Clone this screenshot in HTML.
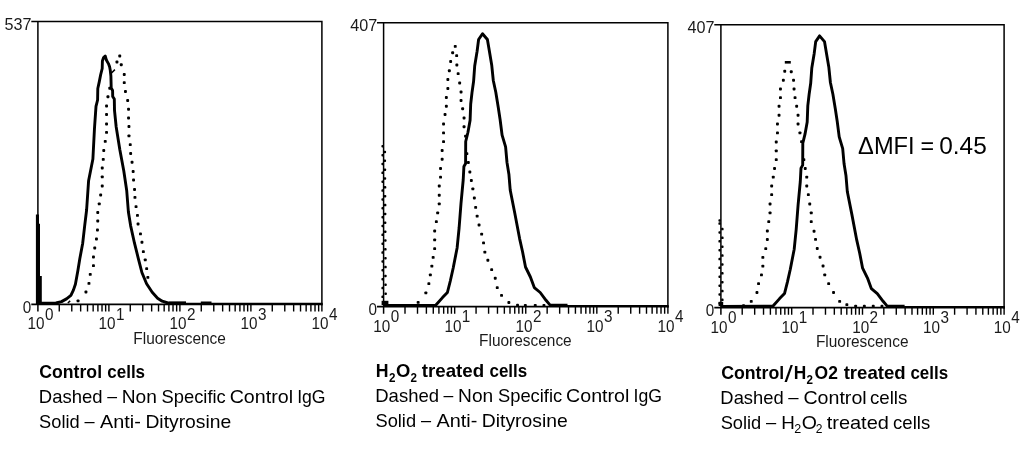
<!DOCTYPE html>
<html lang="en">
<head>
<meta charset="utf-8">
<title>Flow cytometry histograms</title>
<style>
html,body{margin:0;padding:0;background:#fff;}
body{width:1024px;height:454px;overflow:hidden;}
svg{display:block;}
text{font-family:"Liberation Sans",sans-serif;fill:#000;}
.ax{font-size:16.8px;fill:#1a1a1a;}
.c{font-weight:400;}
.cb{font-weight:700;}
.sub{font-size:12px;}
.sol{fill:none;stroke:#000;stroke-width:2.9;stroke-linejoin:round;}
.thin{fill:none;stroke:#000;stroke-width:1.5;}
</style>
</head>
<body>
<svg width="1024" height="454" viewBox="0 0 1024 454">
<rect width="1024" height="454" fill="#fff"/>
<path d="M31.30,21.50 H321.90 V305.20 M37.90,21.50 V311.60" fill="none" stroke="#000" stroke-width="1.5" stroke-linejoin="miter"/>
<path d="M31.30,304.40 H322.65" fill="none" stroke="#000" stroke-width="1.6"/>
<path d="M41.0,303.50 H57.0 M167.0,303.50 H322.6" fill="none" stroke="#000" stroke-width="1.6"/>
<path d="M59.27,304.40v7.2 M71.78,304.40v7.2 M80.65,304.40v7.2 M87.53,304.40v7.2 M93.15,304.40v7.2 M97.90,304.40v7.2 M102.02,304.40v7.2 M105.65,304.40v7.2 M108.90,304.40v7.2 M130.27,304.40v7.2 M142.78,304.40v7.2 M151.65,304.40v7.2 M158.53,304.40v7.2 M164.15,304.40v7.2 M168.90,304.40v7.2 M173.02,304.40v7.2 M176.65,304.40v7.2 M179.90,304.40v7.2 M201.27,304.40v7.2 M213.78,304.40v7.2 M222.65,304.40v7.2 M229.53,304.40v7.2 M235.15,304.40v7.2 M239.90,304.40v7.2 M244.02,304.40v7.2 M247.65,304.40v7.2 M250.90,304.40v7.2 M272.27,304.40v7.2 M284.78,304.40v7.2 M293.65,304.40v7.2 M300.53,304.40v7.2 M306.15,304.40v7.2 M310.90,304.40v7.2 M315.02,304.40v7.2 M318.65,304.40v7.2 M321.90,304.40v7.2" fill="none" stroke="#000" stroke-width="1.4"/>
<text class="ax" x="4.6" y="29.8" textLength="27.0" lengthAdjust="spacingAndGlyphs">537</text>
<text class="ax" x="22.7" y="312.8" textLength="8.5" lengthAdjust="spacingAndGlyphs">0</text>
<text class="ax"><tspan x="27.6" y="329.3" textLength="17.0" lengthAdjust="spacingAndGlyphs">10</tspan><tspan x="45.0" y="319.9" textLength="8.5" lengthAdjust="spacingAndGlyphs">0</tspan></text>
<text class="ax"><tspan x="98.6" y="329.3" textLength="17.0" lengthAdjust="spacingAndGlyphs">10</tspan><tspan x="116.0" y="319.9" textLength="8.5" lengthAdjust="spacingAndGlyphs">1</tspan></text>
<text class="ax"><tspan x="169.6" y="329.3" textLength="17.0" lengthAdjust="spacingAndGlyphs">10</tspan><tspan x="187.0" y="319.9" textLength="8.5" lengthAdjust="spacingAndGlyphs">2</tspan></text>
<text class="ax"><tspan x="240.6" y="329.3" textLength="17.0" lengthAdjust="spacingAndGlyphs">10</tspan><tspan x="258.0" y="319.9" textLength="8.5" lengthAdjust="spacingAndGlyphs">3</tspan></text>
<text class="ax"><tspan x="311.6" y="329.3" textLength="17.0" lengthAdjust="spacingAndGlyphs">10</tspan><tspan x="329.0" y="319.9" textLength="8.5" lengthAdjust="spacingAndGlyphs">4</tspan></text>
<text class="ax fl" x="133.3" y="344.1" textLength="92.6" lengthAdjust="spacingAndGlyphs">Fluorescence</text>
<polyline points="41.0,303.1 56.0,303.0 61.5,301.6 66.5,298.9 70.9,295.4 73.4,290.1 75.4,284.2 77.9,270.5 79.8,258.8 82.7,243.2 84.7,225.6 86.6,210.0 88.6,180.7 92.9,159.0 94.5,128.0 96.0,106.4 97.6,100.0 97.8,88.5 99.3,81.6 100.6,75.0 102.2,68.5 102.4,61.0 103.6,57.5 105.2,56.0 106.5,60.3 108.4,63.6 109.6,66.8 110.3,70.5 110.9,76.0 111.2,88.0 112.6,90.5 112.7,96.5 114.3,99.0 114.5,110.3 116.2,127.0 119.8,149.5 123.8,171.0 126.7,190.5 128.4,212.0 130.6,225.6 134.5,243.2 138.4,258.8 141.9,272.5 146.6,283.8 152.2,292.3 157.6,298.2 162.2,301.2 168.0,303.0 186.0,303.3" class="sol"/>
<path d="M111.5,73 L114.9,69.6 M67.8,303 L70.2,300.9" class="thin"/>
<g><rect x="76.6" y="299.4" width="2.9" height="2.9" rx="0.9"/>
<rect x="84.5" y="290.6" width="2.9" height="2.9" rx="0.9"/>
<rect x="87.5" y="281.9" width="2.9" height="2.9" rx="0.9"/>
<rect x="88.8" y="272.9" width="2.9" height="2.9" rx="0.9"/>
<rect x="92.0" y="264.2" width="2.9" height="2.9" rx="0.9"/>
<rect x="92.0" y="255.6" width="2.9" height="2.9" rx="0.9"/>
<rect x="93.3" y="246.6" width="2.9" height="2.9" rx="0.9"/>
<rect x="95.0" y="237.6" width="2.9" height="2.9" rx="0.9"/>
<rect x="96.0" y="228.6" width="2.9" height="2.9" rx="0.9"/>
<rect x="96.3" y="219.6" width="2.9" height="2.9" rx="0.9"/>
<rect x="96.3" y="211.1" width="2.9" height="2.9" rx="0.9"/>
<rect x="97.8" y="202.4" width="2.9" height="2.9" rx="0.9"/>
<rect x="99.2" y="193.6" width="2.9" height="2.9" rx="0.9"/>
<rect x="100.8" y="184.6" width="2.9" height="2.9" rx="0.9"/>
<rect x="100.8" y="175.4" width="2.9" height="2.9" rx="0.9"/>
<rect x="100.8" y="166.6" width="2.9" height="2.9" rx="0.9"/>
<rect x="101.8" y="157.9" width="2.9" height="2.9" rx="0.9"/>
<rect x="102.3" y="149.1" width="2.9" height="2.9" rx="0.9"/>
<rect x="103.8" y="139.9" width="2.9" height="2.9" rx="0.9"/>
<rect x="105.1" y="130.9" width="2.9" height="2.9" rx="0.9"/>
<rect x="105.1" y="122.5" width="2.9" height="2.9" rx="0.9"/>
<rect x="105.1" y="113.1" width="2.9" height="2.9" rx="0.9"/>
<rect x="105.1" y="104.5" width="2.9" height="2.9" rx="0.9"/>
<rect x="106.5" y="95.3" width="2.9" height="2.9" rx="0.9"/>
<rect x="108.3" y="86.8" width="2.9" height="2.9" rx="0.9"/>
<rect x="115.5" y="60.5" width="2.9" height="2.9" rx="0.9"/>
<rect x="118.3" y="54.6" width="2.9" height="2.9" rx="0.9"/>
<rect x="119.8" y="63.3" width="2.9" height="2.9" rx="0.9"/>
<rect x="122.8" y="73.0" width="2.9" height="2.9" rx="0.9"/>
<rect x="122.8" y="81.2" width="2.9" height="2.9" rx="0.9"/>
<rect x="124.0" y="90.0" width="2.9" height="2.9" rx="0.9"/>
<rect x="126.2" y="99.0" width="2.9" height="2.9" rx="0.9"/>
<rect x="127.1" y="107.8" width="2.9" height="2.9" rx="0.9"/>
<rect x="127.1" y="116.5" width="2.9" height="2.9" rx="0.9"/>
<rect x="127.5" y="125.0" width="2.9" height="2.9" rx="0.9"/>
<rect x="127.5" y="134.4" width="2.9" height="2.9" rx="0.9"/>
<rect x="128.8" y="143.2" width="2.9" height="2.9" rx="0.9"/>
<rect x="129.2" y="152.0" width="2.9" height="2.9" rx="0.9"/>
<rect x="130.6" y="160.8" width="2.9" height="2.9" rx="0.9"/>
<rect x="131.7" y="170.0" width="2.9" height="2.9" rx="0.9"/>
<rect x="132.1" y="178.6" width="2.9" height="2.9" rx="0.9"/>
<rect x="133.1" y="188.1" width="2.9" height="2.9" rx="0.9"/>
<rect x="133.5" y="195.9" width="2.9" height="2.9" rx="0.9"/>
<rect x="134.6" y="205.2" width="2.9" height="2.9" rx="0.9"/>
<rect x="136.0" y="213.9" width="2.9" height="2.9" rx="0.9"/>
<rect x="136.6" y="222.6" width="2.9" height="2.9" rx="0.9"/>
<rect x="139.0" y="232.4" width="2.9" height="2.9" rx="0.9"/>
<rect x="140.5" y="240.8" width="2.9" height="2.9" rx="0.9"/>
<rect x="141.9" y="250.2" width="2.9" height="2.9" rx="0.9"/>
<rect x="143.8" y="258.4" width="2.9" height="2.9" rx="0.9"/>
<rect x="145.2" y="267.2" width="2.9" height="2.9" rx="0.9"/>
<rect x="146.4" y="275.9" width="2.9" height="2.9" rx="0.9"/></g>
<path d="M35.9,304.5 V214.6 H39 V223.8 H40 V276 H41.8 V304.5 Z" fill="#000"/>
<path d="M168.5,302.7 H186 M200.8,302.7 H211.5" stroke="#000" stroke-width="2.6" fill="none"/>
<path d="M377.00,22.65 H667.90 V307.40 M383.60,22.65 V313.80" fill="none" stroke="#000" stroke-width="1.5" stroke-linejoin="miter"/>
<path d="M377.00,306.60 H668.65" fill="none" stroke="#000" stroke-width="1.6"/>
<path d="M383.6,305.70 H436.5 M549.0,305.70 H668.6" fill="none" stroke="#000" stroke-width="1.6"/>
<path d="M405.00,306.60v7.2 M417.51,306.60v7.2 M426.39,306.60v7.2 M433.28,306.60v7.2 M438.91,306.60v7.2 M443.67,306.60v7.2 M447.79,306.60v7.2 M451.42,306.60v7.2 M454.68,306.60v7.2 M476.07,306.60v7.2 M488.59,306.60v7.2 M497.47,306.60v7.2 M504.35,306.60v7.2 M509.98,306.60v7.2 M514.74,306.60v7.2 M518.86,306.60v7.2 M522.50,306.60v7.2 M525.75,306.60v7.2 M547.15,306.60v7.2 M559.66,306.60v7.2 M568.54,306.60v7.2 M575.43,306.60v7.2 M581.06,306.60v7.2 M585.82,306.60v7.2 M589.94,306.60v7.2 M593.57,306.60v7.2 M596.83,306.60v7.2 M618.22,306.60v7.2 M630.74,306.60v7.2 M639.62,306.60v7.2 M646.50,306.60v7.2 M652.13,306.60v7.2 M656.89,306.60v7.2 M661.01,306.60v7.2 M664.65,306.60v7.2 M667.90,306.60v7.2" fill="none" stroke="#000" stroke-width="1.4"/>
<text class="ax" x="350.3" y="30.9" textLength="27.0" lengthAdjust="spacingAndGlyphs">407</text>
<text class="ax" x="368.4" y="315.0" textLength="8.5" lengthAdjust="spacingAndGlyphs">0</text>
<text class="ax"><tspan x="373.3" y="331.5" textLength="17.0" lengthAdjust="spacingAndGlyphs">10</tspan><tspan x="390.7" y="322.1" textLength="8.5" lengthAdjust="spacingAndGlyphs">0</tspan></text>
<text class="ax"><tspan x="444.4" y="331.5" textLength="17.0" lengthAdjust="spacingAndGlyphs">10</tspan><tspan x="461.8" y="322.1" textLength="8.5" lengthAdjust="spacingAndGlyphs">1</tspan></text>
<text class="ax"><tspan x="515.5" y="331.5" textLength="17.0" lengthAdjust="spacingAndGlyphs">10</tspan><tspan x="532.9" y="322.1" textLength="8.5" lengthAdjust="spacingAndGlyphs">2</tspan></text>
<text class="ax"><tspan x="586.5" y="331.5" textLength="17.0" lengthAdjust="spacingAndGlyphs">10</tspan><tspan x="603.9" y="322.1" textLength="8.5" lengthAdjust="spacingAndGlyphs">3</tspan></text>
<text class="ax"><tspan x="657.6" y="331.5" textLength="17.0" lengthAdjust="spacingAndGlyphs">10</tspan><tspan x="675.0" y="322.1" textLength="8.5" lengthAdjust="spacingAndGlyphs">4</tspan></text>
<text class="ax fl" x="479.1" y="346.3" textLength="92.6" lengthAdjust="spacingAndGlyphs">Fluorescence</text>
<polyline points="384.2,305.4 435.7,305.3 442.5,297.6 447.4,292.5 450.3,281.0 453.2,268.0 457.1,248.0 459.1,228.0 461.0,203.4 463.2,180.0 463.9,166.5 465.6,163.5 465.7,141.5 467.9,132.5 470.1,120.2 470.7,104.0 472.0,92.6 473.6,81.3 474.7,66.0 477.1,51.3 478.6,39.5 482.5,33.7 487.4,39.5 489.4,51.3 491.7,64.9 493.3,80.5 495.8,92.3 498.2,106.9 500.1,119.5 502.1,135.2 505.6,146.9 507.0,162.5 508.9,174.2 510.2,190.0 514.8,213.2 519.6,238.6 522.6,252.0 525.5,267.0 530.4,277.0 534.3,287.6 540.2,292.5 546.0,300.3 549.9,304.9 567.5,305.3" class="sol"/>
<g><rect x="416.7" y="300.9" width="2.9" height="2.9" rx="0.9"/>
<rect x="424.4" y="291.4" width="2.9" height="2.9" rx="0.9"/>
<rect x="427.4" y="282.2" width="2.9" height="2.9" rx="0.9"/>
<rect x="428.9" y="273.4" width="2.9" height="2.9" rx="0.9"/>
<rect x="430.4" y="264.7" width="2.9" height="2.9" rx="0.9"/>
<rect x="431.7" y="255.9" width="2.9" height="2.9" rx="0.9"/>
<rect x="433.2" y="247.2" width="2.9" height="2.9" rx="0.9"/>
<rect x="433.2" y="238.4" width="2.9" height="2.9" rx="0.9"/>
<rect x="433.2" y="229.6" width="2.9" height="2.9" rx="0.9"/>
<rect x="434.9" y="220.2" width="2.9" height="2.9" rx="0.9"/>
<rect x="436.2" y="211.4" width="2.9" height="2.9" rx="0.9"/>
<rect x="437.8" y="202.4" width="2.9" height="2.9" rx="0.9"/>
<rect x="437.8" y="193.8" width="2.9" height="2.9" rx="0.9"/>
<rect x="437.8" y="184.5" width="2.9" height="2.9" rx="0.9"/>
<rect x="439.1" y="175.7" width="2.9" height="2.9" rx="0.9"/>
<rect x="439.1" y="167.0" width="2.9" height="2.9" rx="0.9"/>
<rect x="440.7" y="157.8" width="2.9" height="2.9" rx="0.9"/>
<rect x="440.7" y="149.0" width="2.9" height="2.9" rx="0.9"/>
<rect x="442.1" y="140.2" width="2.9" height="2.9" rx="0.9"/>
<rect x="442.1" y="131.4" width="2.9" height="2.9" rx="0.9"/>
<rect x="442.1" y="122.5" width="2.9" height="2.9" rx="0.9"/>
<rect x="443.6" y="113.1" width="2.9" height="2.9" rx="0.9"/>
<rect x="444.9" y="104.8" width="2.9" height="2.9" rx="0.9"/>
<rect x="444.9" y="96.0" width="2.9" height="2.9" rx="0.9"/>
<rect x="446.4" y="87.0" width="2.9" height="2.9" rx="0.9"/>
<rect x="446.4" y="78.1" width="2.9" height="2.9" rx="0.9"/>
<rect x="447.9" y="69.3" width="2.9" height="2.9" rx="0.9"/>
<rect x="449.2" y="60.1" width="2.9" height="2.9" rx="0.9"/>
<rect x="451.2" y="51.3" width="2.9" height="2.9" rx="0.9"/>
<rect x="453.8" y="44.9" width="2.9" height="2.9" rx="0.9"/>
<rect x="455.2" y="54.2" width="2.9" height="2.9" rx="0.9"/>
<rect x="455.4" y="63.5" width="2.9" height="2.9" rx="0.9"/>
<rect x="456.7" y="72.2" width="2.9" height="2.9" rx="0.9"/>
<rect x="458.2" y="81.5" width="2.9" height="2.9" rx="0.9"/>
<rect x="459.6" y="90.5" width="2.9" height="2.9" rx="0.9"/>
<rect x="459.6" y="99.0" width="2.9" height="2.9" rx="0.9"/>
<rect x="461.2" y="107.3" width="2.9" height="2.9" rx="0.9"/>
<rect x="462.6" y="116.5" width="2.9" height="2.9" rx="0.9"/>
<rect x="462.6" y="125.3" width="2.9" height="2.9" rx="0.9"/>
<rect x="464.1" y="134.7" width="2.9" height="2.9" rx="0.9"/>
<rect x="465.4" y="152.2" width="2.9" height="2.9" rx="0.9"/>
<rect x="466.9" y="161.1" width="2.9" height="2.9" rx="0.9"/>
<rect x="468.4" y="170.5" width="2.9" height="2.9" rx="0.9"/>
<rect x="469.9" y="179.1" width="2.9" height="2.9" rx="0.9"/>
<rect x="471.4" y="187.4" width="2.9" height="2.9" rx="0.9"/>
<rect x="472.9" y="196.6" width="2.9" height="2.9" rx="0.9"/>
<rect x="474.2" y="205.9" width="2.9" height="2.9" rx="0.9"/>
<rect x="475.7" y="214.7" width="2.9" height="2.9" rx="0.9"/>
<rect x="477.6" y="223.5" width="2.9" height="2.9" rx="0.9"/>
<rect x="480.2" y="232.7" width="2.9" height="2.9" rx="0.9"/>
<rect x="482.1" y="241.4" width="2.9" height="2.9" rx="0.9"/>
<rect x="483.4" y="250.7" width="2.9" height="2.9" rx="0.9"/>
<rect x="486.4" y="258.8" width="2.9" height="2.9" rx="0.9"/>
<rect x="490.2" y="268.2" width="2.9" height="2.9" rx="0.9"/>
<rect x="493.8" y="276.8" width="2.9" height="2.9" rx="0.9"/>
<rect x="495.8" y="286.2" width="2.9" height="2.9" rx="0.9"/>
<rect x="500.1" y="293.9" width="2.9" height="2.9" rx="0.9"/>
<rect x="507.4" y="301.1" width="2.9" height="2.9" rx="0.9"/>
<rect x="516.1" y="303.7" width="2.9" height="2.9" rx="0.9"/>
<rect x="523.9" y="303.9" width="2.9" height="2.9" rx="0.9"/>
<rect x="533.8" y="303.9" width="2.9" height="2.9" rx="0.9"/>
<rect x="542.5" y="303.9" width="2.9" height="2.9" rx="0.9"/></g>
<g><rect x="381.4" y="145.0" width="2.5" height="2.5" rx="0.9"/>
<rect x="381.4" y="153.9" width="2.5" height="2.5" rx="0.9"/>
<rect x="381.4" y="162.7" width="2.5" height="2.5" rx="0.9"/>
<rect x="381.4" y="171.6" width="2.5" height="2.5" rx="0.9"/>
<rect x="381.4" y="180.4" width="2.5" height="2.5" rx="0.9"/>
<rect x="381.4" y="189.3" width="2.5" height="2.5" rx="0.9"/>
<rect x="381.4" y="198.2" width="2.5" height="2.5" rx="0.9"/>
<rect x="381.4" y="207.0" width="2.5" height="2.5" rx="0.9"/>
<rect x="381.4" y="215.9" width="2.5" height="2.5" rx="0.9"/>
<rect x="381.4" y="224.7" width="2.5" height="2.5" rx="0.9"/>
<rect x="381.4" y="233.6" width="2.5" height="2.5" rx="0.9"/>
<rect x="381.4" y="242.5" width="2.5" height="2.5" rx="0.9"/>
<rect x="381.4" y="251.3" width="2.5" height="2.5" rx="0.9"/>
<rect x="381.4" y="260.2" width="2.5" height="2.5" rx="0.9"/>
<rect x="381.4" y="269.0" width="2.5" height="2.5" rx="0.9"/>
<rect x="381.4" y="277.9" width="2.5" height="2.5" rx="0.9"/>
<rect x="381.4" y="286.8" width="2.5" height="2.5" rx="0.9"/>
<rect x="381.4" y="295.6" width="2.5" height="2.5" rx="0.9"/>
<rect x="383.6" y="150.7" width="2.5" height="2.5" rx="0.9"/>
<rect x="383.6" y="159.5" width="2.5" height="2.5" rx="0.9"/>
<rect x="383.7" y="168.4" width="2.5" height="2.5" rx="0.9"/>
<rect x="383.7" y="177.2" width="2.5" height="2.5" rx="0.9"/>
<rect x="383.8" y="186.1" width="2.5" height="2.5" rx="0.9"/>
<rect x="383.8" y="194.9" width="2.5" height="2.5" rx="0.9"/>
<rect x="383.9" y="203.8" width="2.5" height="2.5" rx="0.9"/>
<rect x="383.9" y="212.7" width="2.5" height="2.5" rx="0.9"/>
<rect x="383.9" y="221.5" width="2.5" height="2.5" rx="0.9"/>
<rect x="384.0" y="230.4" width="2.5" height="2.5" rx="0.9"/>
<rect x="384.1" y="239.2" width="2.5" height="2.5" rx="0.9"/>
<rect x="384.1" y="248.1" width="2.5" height="2.5" rx="0.9"/>
<rect x="384.2" y="257.0" width="2.5" height="2.5" rx="0.9"/>
<rect x="384.2" y="265.8" width="2.5" height="2.5" rx="0.9"/>
<rect x="384.2" y="274.7" width="2.5" height="2.5" rx="0.9"/>
<rect x="384.3" y="283.5" width="2.5" height="2.5" rx="0.9"/>
<rect x="384.4" y="292.4" width="2.5" height="2.5" rx="0.9"/>
<rect x="384.4" y="301.3" width="2.5" height="2.5" rx="0.9"/></g>
<path d="M381.6,300.8 H388.4 V305 H381.6 Z" fill="#000"/>
<path d="M714.30,24.85 H1004.10 V308.40 M720.90,24.85 V314.80" fill="none" stroke="#000" stroke-width="1.5" stroke-linejoin="miter"/>
<path d="M714.30,307.60 H1004.85" fill="none" stroke="#000" stroke-width="1.6"/>
<path d="M720.9,306.70 H773.8 M886.3,306.70 H1004.8" fill="none" stroke="#000" stroke-width="1.6"/>
<path d="M742.21,307.60v7.2 M754.68,307.60v7.2 M763.53,307.60v7.2 M770.39,307.60v7.2 M775.99,307.60v7.2 M780.73,307.60v7.2 M784.84,307.60v7.2 M788.46,307.60v7.2 M791.70,307.60v7.2 M813.01,307.60v7.2 M825.48,307.60v7.2 M834.33,307.60v7.2 M841.19,307.60v7.2 M846.79,307.60v7.2 M851.53,307.60v7.2 M855.64,307.60v7.2 M859.26,307.60v7.2 M862.50,307.60v7.2 M883.81,307.60v7.2 M896.28,307.60v7.2 M905.13,307.60v7.2 M911.99,307.60v7.2 M917.59,307.60v7.2 M922.33,307.60v7.2 M926.44,307.60v7.2 M930.06,307.60v7.2 M933.30,307.60v7.2 M954.61,307.60v7.2 M967.08,307.60v7.2 M975.93,307.60v7.2 M982.79,307.60v7.2 M988.39,307.60v7.2 M993.13,307.60v7.2 M997.24,307.60v7.2 M1000.86,307.60v7.2 M1004.10,307.60v7.2" fill="none" stroke="#000" stroke-width="1.4"/>
<text class="ax" x="687.6" y="33.2" textLength="27.0" lengthAdjust="spacingAndGlyphs">407</text>
<text class="ax" x="705.7" y="316.0" textLength="8.5" lengthAdjust="spacingAndGlyphs">0</text>
<text class="ax"><tspan x="710.6" y="332.5" textLength="17.0" lengthAdjust="spacingAndGlyphs">10</tspan><tspan x="728.0" y="323.1" textLength="8.5" lengthAdjust="spacingAndGlyphs">0</tspan></text>
<text class="ax"><tspan x="781.4" y="332.5" textLength="17.0" lengthAdjust="spacingAndGlyphs">10</tspan><tspan x="798.8" y="323.1" textLength="8.5" lengthAdjust="spacingAndGlyphs">1</tspan></text>
<text class="ax"><tspan x="852.2" y="332.5" textLength="17.0" lengthAdjust="spacingAndGlyphs">10</tspan><tspan x="869.6" y="323.1" textLength="8.5" lengthAdjust="spacingAndGlyphs">2</tspan></text>
<text class="ax"><tspan x="923.0" y="332.5" textLength="17.0" lengthAdjust="spacingAndGlyphs">10</tspan><tspan x="940.4" y="323.1" textLength="8.5" lengthAdjust="spacingAndGlyphs">3</tspan></text>
<text class="ax"><tspan x="993.8" y="332.5" textLength="17.0" lengthAdjust="spacingAndGlyphs">10</tspan><tspan x="1011.2" y="323.1" textLength="8.5" lengthAdjust="spacingAndGlyphs">4</tspan></text>
<text class="ax fl" x="815.9" y="347.3" textLength="92.6" lengthAdjust="spacingAndGlyphs">Fluorescence</text>
<polyline points="721.3,306.4 772.8,306.3 779.6,298.6 784.5,293.6 787.4,282.1 790.3,269.2 794.2,249.2 796.2,229.3 798.1,204.8 800.3,181.5 801.0,168.1 802.7,165.1 802.8,143.2 805.0,134.2 807.2,122.0 807.8,105.9 809.1,94.5 810.7,83.3 811.8,68.0 814.2,53.4 815.7,41.6 819.6,35.9 824.5,41.6 826.5,53.4 828.8,66.9 830.4,82.5 832.9,94.2 835.3,108.7 837.2,121.3 839.2,136.9 842.7,148.6 844.1,164.1 846.0,175.8 847.3,191.5 851.9,214.6 856.7,239.9 859.7,253.2 862.6,268.2 867.5,278.1 871.4,288.7 877.3,293.6 883.1,301.3 887.0,305.9 904.6,306.3" class="sol"/>
<g><rect x="742.1" y="304.2" width="2.9" height="2.9" rx="0.9"/>
<rect x="749.8" y="299.9" width="2.9" height="2.9" rx="0.9"/>
<rect x="755.5" y="291.1" width="2.9" height="2.9" rx="0.9"/>
<rect x="757.1" y="282.2" width="2.9" height="2.9" rx="0.9"/>
<rect x="760.0" y="273.4" width="2.9" height="2.9" rx="0.9"/>
<rect x="761.4" y="264.7" width="2.9" height="2.9" rx="0.9"/>
<rect x="761.4" y="255.9" width="2.9" height="2.9" rx="0.9"/>
<rect x="764.3" y="247.2" width="2.9" height="2.9" rx="0.9"/>
<rect x="765.9" y="238.0" width="2.9" height="2.9" rx="0.9"/>
<rect x="765.9" y="229.6" width="2.9" height="2.9" rx="0.9"/>
<rect x="767.3" y="220.2" width="2.9" height="2.9" rx="0.9"/>
<rect x="768.6" y="211.4" width="2.9" height="2.9" rx="0.9"/>
<rect x="768.6" y="202.6" width="2.9" height="2.9" rx="0.9"/>
<rect x="770.2" y="193.2" width="2.9" height="2.9" rx="0.9"/>
<rect x="770.2" y="184.5" width="2.9" height="2.9" rx="0.9"/>
<rect x="771.8" y="175.7" width="2.9" height="2.9" rx="0.9"/>
<rect x="773.1" y="167.0" width="2.9" height="2.9" rx="0.9"/>
<rect x="774.8" y="158.2" width="2.9" height="2.9" rx="0.9"/>
<rect x="774.8" y="149.4" width="2.9" height="2.9" rx="0.9"/>
<rect x="774.8" y="140.6" width="2.9" height="2.9" rx="0.9"/>
<rect x="776.0" y="131.4" width="2.9" height="2.9" rx="0.9"/>
<rect x="776.0" y="122.5" width="2.9" height="2.9" rx="0.9"/>
<rect x="777.6" y="113.8" width="2.9" height="2.9" rx="0.9"/>
<rect x="777.6" y="104.8" width="2.9" height="2.9" rx="0.9"/>
<rect x="779.0" y="96.2" width="2.9" height="2.9" rx="0.9"/>
<rect x="779.0" y="87.5" width="2.9" height="2.9" rx="0.9"/>
<rect x="781.9" y="78.8" width="2.9" height="2.9" rx="0.9"/>
<rect x="783.3" y="69.8" width="2.9" height="2.9" rx="0.9"/>
<rect x="789.8" y="70.3" width="2.9" height="2.9" rx="0.9"/>
<rect x="792.1" y="78.8" width="2.9" height="2.9" rx="0.9"/>
<rect x="792.6" y="87.5" width="2.9" height="2.9" rx="0.9"/>
<rect x="793.6" y="96.2" width="2.9" height="2.9" rx="0.9"/>
<rect x="795.2" y="104.8" width="2.9" height="2.9" rx="0.9"/>
<rect x="796.6" y="113.8" width="2.9" height="2.9" rx="0.9"/>
<rect x="796.6" y="122.5" width="2.9" height="2.9" rx="0.9"/>
<rect x="798.5" y="131.4" width="2.9" height="2.9" rx="0.9"/>
<rect x="800.1" y="140.2" width="2.9" height="2.9" rx="0.9"/>
<rect x="802.4" y="158.2" width="2.9" height="2.9" rx="0.9"/>
<rect x="803.8" y="167.0" width="2.9" height="2.9" rx="0.9"/>
<rect x="805.3" y="175.7" width="2.9" height="2.9" rx="0.9"/>
<rect x="805.3" y="184.5" width="2.9" height="2.9" rx="0.9"/>
<rect x="806.9" y="193.2" width="2.9" height="2.9" rx="0.9"/>
<rect x="808.3" y="202.6" width="2.9" height="2.9" rx="0.9"/>
<rect x="809.8" y="211.4" width="2.9" height="2.9" rx="0.9"/>
<rect x="809.8" y="220.2" width="2.9" height="2.9" rx="0.9"/>
<rect x="812.6" y="229.8" width="2.9" height="2.9" rx="0.9"/>
<rect x="814.1" y="237.9" width="2.9" height="2.9" rx="0.9"/>
<rect x="815.8" y="247.1" width="2.9" height="2.9" rx="0.9"/>
<rect x="818.6" y="255.8" width="2.9" height="2.9" rx="0.9"/>
<rect x="821.6" y="264.6" width="2.9" height="2.9" rx="0.9"/>
<rect x="823.3" y="273.4" width="2.9" height="2.9" rx="0.9"/>
<rect x="827.2" y="282.2" width="2.9" height="2.9" rx="0.9"/>
<rect x="832.1" y="291.1" width="2.9" height="2.9" rx="0.9"/>
<rect x="838.2" y="299.9" width="2.9" height="2.9" rx="0.9"/>
<rect x="845.4" y="303.2" width="2.9" height="2.9" rx="0.9"/>
<rect x="854.2" y="304.7" width="2.9" height="2.9" rx="0.9"/>
<rect x="862.9" y="304.8" width="2.9" height="2.9" rx="0.9"/>
<rect x="871.8" y="304.8" width="2.9" height="2.9" rx="0.9"/>
<rect x="880.5" y="304.8" width="2.9" height="2.9" rx="0.9"/></g>
<path d="M784.8,62.3 H790.8" stroke="#000" stroke-width="2.6" fill="none"/>
<g><rect x="718.4" y="222.3" width="2.5" height="2.5" rx="0.9"/>
<rect x="718.4" y="231.2" width="2.5" height="2.5" rx="0.9"/>
<rect x="718.4" y="240.1" width="2.5" height="2.5" rx="0.9"/>
<rect x="718.4" y="248.9" width="2.5" height="2.5" rx="0.9"/>
<rect x="718.4" y="257.8" width="2.5" height="2.5" rx="0.9"/>
<rect x="718.4" y="266.6" width="2.5" height="2.5" rx="0.9"/>
<rect x="718.4" y="275.5" width="2.5" height="2.5" rx="0.9"/>
<rect x="718.4" y="284.4" width="2.5" height="2.5" rx="0.9"/>
<rect x="718.4" y="293.2" width="2.5" height="2.5" rx="0.9"/>
<rect x="718.4" y="302.1" width="2.5" height="2.5" rx="0.9"/>
<rect x="721.1" y="227.8" width="2.5" height="2.5" rx="0.9"/>
<rect x="721.1" y="236.6" width="2.5" height="2.5" rx="0.9"/>
<rect x="721.1" y="245.5" width="2.5" height="2.5" rx="0.9"/>
<rect x="721.1" y="254.3" width="2.5" height="2.5" rx="0.9"/>
<rect x="721.1" y="263.2" width="2.5" height="2.5" rx="0.9"/>
<rect x="721.1" y="272.1" width="2.5" height="2.5" rx="0.9"/>
<rect x="721.1" y="280.9" width="2.5" height="2.5" rx="0.9"/>
<rect x="721.1" y="289.8" width="2.5" height="2.5" rx="0.9"/>
<rect x="721.1" y="298.6" width="2.5" height="2.5" rx="0.9"/>
<rect x="718.4" y="219.2" width="2.5" height="2.5" rx="0.9"/></g>
<path d="M718.6,301.8 H723.2 V306 H718.6 Z" fill="#000"/>
<text xml:space="default"><tspan class="cb" x="39.28" y="377.80" textLength="62.77" lengthAdjust="spacingAndGlyphs" font-size="17.7">Control</tspan> <tspan class="cb" x="107.24" y="377.80" textLength="37.86" lengthAdjust="spacingAndGlyphs" font-size="17.7">cells</tspan></text>
<text xml:space="default"><tspan class="c" x="38.88" y="402.70" textLength="63.71" lengthAdjust="spacingAndGlyphs" font-size="18.1">Dashed</tspan> <tspan class="c" x="107.20" y="401.70" textLength="9.81" lengthAdjust="spacingAndGlyphs" font-size="18.1">–</tspan> <tspan class="c" x="121.73" y="402.70" textLength="35.11" lengthAdjust="spacingAndGlyphs" font-size="18.1">Non</tspan> <tspan class="c" x="161.57" y="402.70" textLength="64.22" lengthAdjust="spacingAndGlyphs" font-size="18.1">Specific</tspan> <tspan class="c" x="229.70" y="402.70" textLength="63.31" lengthAdjust="spacingAndGlyphs" font-size="18.1">Control</tspan> <tspan class="c" x="297.17" y="402.70" textLength="28.45" lengthAdjust="spacingAndGlyphs" font-size="18.1">IgG</tspan></text>
<text xml:space="default"><tspan class="c" x="39.07" y="427.50" textLength="40.61" lengthAdjust="spacingAndGlyphs" font-size="18.1">Solid</tspan> <tspan class="c" x="84.50" y="426.50" textLength="10.11" lengthAdjust="spacingAndGlyphs" font-size="18.1">–</tspan> <tspan class="c" x="100.06" y="427.50" textLength="40.82" lengthAdjust="spacingAndGlyphs" font-size="18.1">Anti-</tspan> <tspan class="c" x="145.42" y="427.50" textLength="85.84" lengthAdjust="spacingAndGlyphs" font-size="18.1">Dityrosine</tspan></text>
<text xml:space="default"><tspan class="cb" x="375.82" y="377.30" textLength="12.78" lengthAdjust="spacingAndGlyphs" font-size="17.7">H</tspan><tspan class="cb" x="389.00" y="381.80" textLength="6.47" lengthAdjust="spacingAndGlyphs" font-size="12.2">2</tspan><tspan class="cb" x="396.04" y="377.30" textLength="14.33" lengthAdjust="spacingAndGlyphs" font-size="17.7">O</tspan><tspan class="cb" x="410.40" y="381.80" textLength="6.47" lengthAdjust="spacingAndGlyphs" font-size="12.2">2</tspan> <tspan class="cb" x="421.77" y="377.30" textLength="62.46" lengthAdjust="spacingAndGlyphs" font-size="17.7">treated</tspan> <tspan class="cb" x="489.44" y="377.30" textLength="37.76" lengthAdjust="spacingAndGlyphs" font-size="17.7">cells</tspan></text>
<text xml:space="default"><tspan class="c" x="375.28" y="402.10" textLength="63.71" lengthAdjust="spacingAndGlyphs" font-size="18.1">Dashed</tspan> <tspan class="c" x="443.60" y="401.10" textLength="9.81" lengthAdjust="spacingAndGlyphs" font-size="18.1">–</tspan> <tspan class="c" x="458.13" y="402.10" textLength="35.11" lengthAdjust="spacingAndGlyphs" font-size="18.1">Non</tspan> <tspan class="c" x="497.97" y="402.10" textLength="64.22" lengthAdjust="spacingAndGlyphs" font-size="18.1">Specific</tspan> <tspan class="c" x="566.10" y="402.10" textLength="63.31" lengthAdjust="spacingAndGlyphs" font-size="18.1">Control</tspan> <tspan class="c" x="633.57" y="402.10" textLength="28.45" lengthAdjust="spacingAndGlyphs" font-size="18.1">IgG</tspan></text>
<text xml:space="default"><tspan class="c" x="375.47" y="426.80" textLength="40.61" lengthAdjust="spacingAndGlyphs" font-size="18.1">Solid</tspan> <tspan class="c" x="420.90" y="425.80" textLength="10.11" lengthAdjust="spacingAndGlyphs" font-size="18.1">–</tspan> <tspan class="c" x="436.46" y="426.80" textLength="40.82" lengthAdjust="spacingAndGlyphs" font-size="18.1">Anti-</tspan> <tspan class="c" x="481.82" y="426.80" textLength="85.84" lengthAdjust="spacingAndGlyphs" font-size="18.1">Dityrosine</tspan></text>
<text xml:space="default"><tspan class="cb" x="721.17" y="379.30" textLength="62.98" lengthAdjust="spacingAndGlyphs" font-size="17.7">Control</tspan><tspan class="c" x="784.40" y="382.1" textLength="8.40" lengthAdjust="spacingAndGlyphs" font-size="23.8">/</tspan><tspan class="cb" x="793.64" y="379.30" textLength="12.53" lengthAdjust="spacingAndGlyphs" font-size="17.7">H</tspan><tspan class="cb" x="806.50" y="383.80" textLength="6.47" lengthAdjust="spacingAndGlyphs" font-size="12.2">2</tspan><tspan class="cb" x="814.58" y="379.30" textLength="23.32" lengthAdjust="spacingAndGlyphs" font-size="17.7">O2</tspan> <tspan class="cb" x="843.67" y="379.30" textLength="62.05" lengthAdjust="spacingAndGlyphs" font-size="17.7">treated</tspan> <tspan class="cb" x="910.44" y="379.30" textLength="37.66" lengthAdjust="spacingAndGlyphs" font-size="17.7">cells</tspan></text>
<text xml:space="default"><tspan class="c" x="720.39" y="403.85" textLength="63.29" lengthAdjust="spacingAndGlyphs" font-size="18.1">Dashed</tspan> <tspan class="c" x="788.30" y="402.85" textLength="10.31" lengthAdjust="spacingAndGlyphs" font-size="18.1">–</tspan> <tspan class="c" x="803.40" y="403.85" textLength="63.31" lengthAdjust="spacingAndGlyphs" font-size="18.1">Control</tspan> <tspan class="c" x="870.01" y="403.85" textLength="37.37" lengthAdjust="spacingAndGlyphs" font-size="18.1">cells</tspan></text>
<text xml:space="default"><tspan class="c" x="720.67" y="428.70" textLength="40.61" lengthAdjust="spacingAndGlyphs" font-size="18.1">Solid</tspan> <tspan class="c" x="766.00" y="427.70" textLength="10.21" lengthAdjust="spacingAndGlyphs" font-size="18.1">–</tspan> <tspan class="c" x="781.36" y="428.70" textLength="13.57" lengthAdjust="spacingAndGlyphs" font-size="18.1">H</tspan><tspan class="c" x="794.27" y="433.20" textLength="6.96" lengthAdjust="spacingAndGlyphs" font-size="12.2">2</tspan><tspan class="c" x="801.88" y="428.70" textLength="15.16" lengthAdjust="spacingAndGlyphs" font-size="18.1">O</tspan><tspan class="c" x="815.69" y="433.20" textLength="6.71" lengthAdjust="spacingAndGlyphs" font-size="12.2">2</tspan> <tspan class="c" x="826.70" y="428.70" textLength="62.19" lengthAdjust="spacingAndGlyphs" font-size="18.1">treated</tspan> <tspan class="c" x="893.11" y="428.70" textLength="37.06" lengthAdjust="spacingAndGlyphs" font-size="18.1">cells</tspan></text>
<text xml:space="default"><tspan class="c" x="858.10" y="153.8" textLength="56.49" lengthAdjust="spacingAndGlyphs" font-size="23.9">ΔMFI</tspan> <tspan class="c" x="920.56" y="153.8" textLength="13.58" lengthAdjust="spacingAndGlyphs" font-size="23.9">=</tspan> <tspan class="c" x="939.25" y="153.8" textLength="47.48" lengthAdjust="spacingAndGlyphs" font-size="23.9">0.45</tspan></text>
</svg>
</body>
</html>
